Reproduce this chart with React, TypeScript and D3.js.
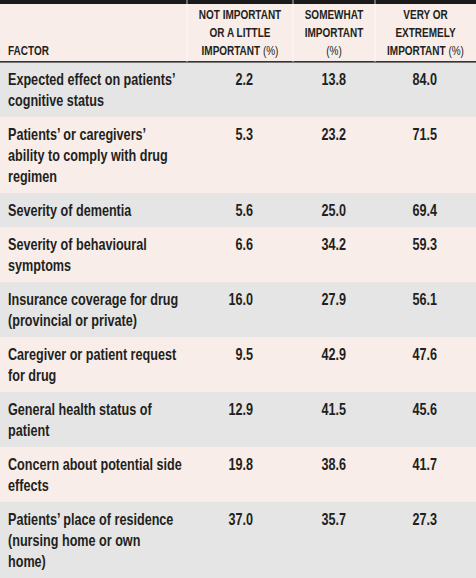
import React from "react";
import * as d3 from "d3";

const factorLines: string[][] = [
  ["Expected effect on patients\u2019", "cognitive status"],
  ["Patients\u2019 or caregivers\u2019", "ability to comply with drug", "regimen"],
  ["Severity of dementia"],
  ["Severity of behavioural", "symptoms"],
  ["Insurance coverage for drug", "(provincial or private)"],
  ["Caregiver or patient request", "for drug"],
  ["General health status of", "patient"],
  ["Concern about potential side", "effects"],
  ["Patients\u2019 place of residence", "(nursing home or own", "home)"],
];
const notImportant = [2.2, 5.3, 5.6, 6.6, 16.0, 9.5, 12.9, 19.8, 37.0];
const somewhatImportant = [13.8, 23.2, 25.0, 34.2, 27.9, 42.9, 41.5, 38.6, 35.7];
const veryImportant = [84.0, 71.5, 69.4, 59.3, 56.1, 47.6, 45.6, 41.7, 27.3];

// header lines: [bold text, normal suffix]
const factorHeader = "FACTOR";
const colHeaders: [string, string][][] = [
  [["NOT IMPORTANT", ""], ["OR A LITTLE", ""], ["IMPORTANT", " (%)"]],
  [["SOMEWHAT", ""], ["IMPORTANT", ""], ["", "(%)"]],
  [["VERY OR", ""], ["EXTREMELY", ""], ["IMPORTANT", " (%)"]],
];

const W = 476;
const H = 578;
const HEADER_H = 62;
const LINE_H = 21;
const PAD = 13;
const colEdges = [0, 187, 293, 375, W];
const valueRight = [253, 346, 437];
const PINK = "#f8ede8";
const GREY = "#e5e5e5";
const TEXT = "#231f20";
const FONT = "'Liberation Sans', Arial, sans-serif";
const SX = 0.765;
const HSX = 0.8;

export default function App() {
  const heights = factorLines.map((l) => PAD + LINE_H * l.length);
  const tops = [HEADER_H, ...Array.from(d3.cumsum(heights)).map((c) => HEADER_H + c)];
  const cols = [notImportant, somewhatImportant, veryImportant];
  const fmt = d3.format(".1f");

  return (
    <svg
      width={W}
      height={H}
      style={{ position: "absolute", left: 0, top: 0 }}
      fontFamily={FONT}
    >
      <rect x={0} y={0} width={W} height={HEADER_H} fill={PINK} />
      {factorLines.map((lines, i) => (
        <g key={i}>
          <rect x={0} y={tops[i]} width={W} height={heights[i]} fill={i % 2 === 0 ? GREY : PINK} />
          {lines.map((t, j) => (
            <text
              key={j}
              transform={`translate(8,${tops[i] + 23 + j * LINE_H}) scale(${SX},1)`}
              fontSize={16.5}
              fontWeight={700}
              fill={TEXT}
            >
              {t}
            </text>
          ))}
          {cols.map((c, k) => (
            <text
              key={k}
              transform={`translate(${valueRight[k]},${tops[i] + 23}) scale(${SX},1)`}
              fontSize={16.5}
              fontWeight={700}
              fill={TEXT}
              textAnchor="end"
            >
              {fmt(c[i])}
            </text>
          ))}
        </g>
      ))}
      {/* header */}
      <rect x={0} y={0} width={W} height={4} fill="#1a1a1a" />
      <rect x={0} y={61} width={W} height={1.6} fill="#333" />
      <text
        transform={`translate(8,55) scale(${HSX},1)`}
        fontSize={12.5}
        fontWeight={700}
        fill={TEXT}
      >
        {factorHeader}
      </text>
      {colHeaders.map((lines, k) => {
        const cx = (colEdges[k + 1] + colEdges[k + 2]) / 2;
        return lines.map(([b, n], j) => (
          <text
            key={`${k}-${j}`}
            transform={`translate(${cx},${19 + j * 18}) scale(${HSX},1)`}
            fontSize={12.5}
            fill={TEXT}
            textAnchor="middle"
          >
            <tspan fontWeight={700}>{b}</tspan>
            {n && <tspan fontWeight={400}>{n}</tspan>}
          </text>
        ));
      })}
      {colEdges.slice(1, 4).map((x, i) => (
        <line key={i} x1={x} x2={x} y1={0} y2={HEADER_H} stroke="#fff" strokeWidth={1} opacity={0.7} />
      ))}
    </svg>
  );
}
